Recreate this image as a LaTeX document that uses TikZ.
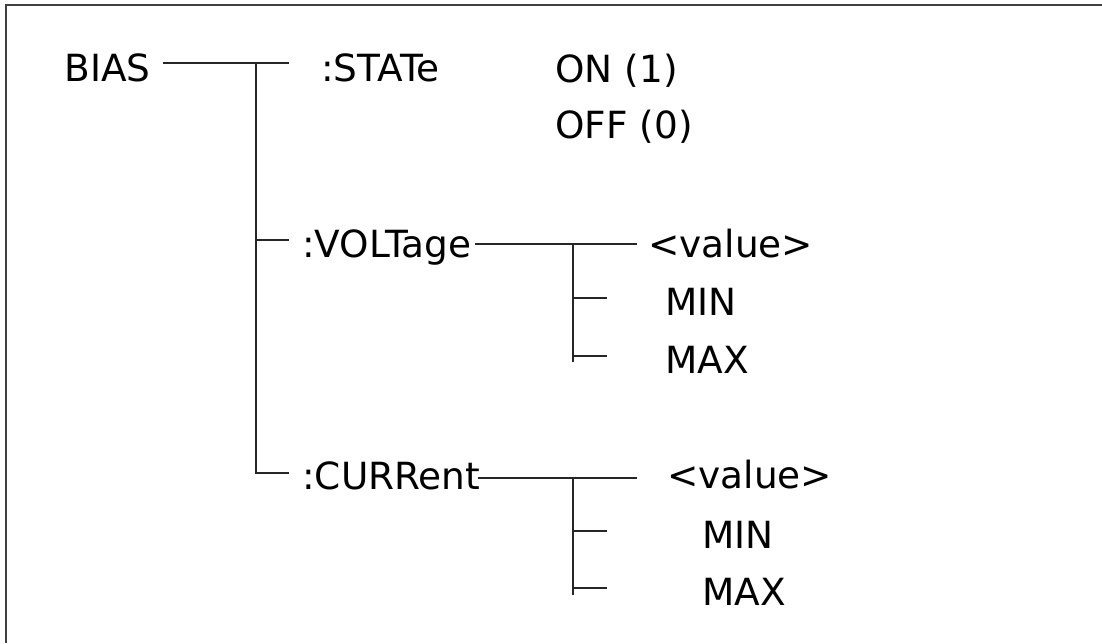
\documentclass[tikz,border=0pt]{standalone}
\usepackage{fontspec}
\setmainfont{DejaVu Sans}
\usepackage{tikz}
\tikzstyle{lbl}=[anchor=base west,inner sep=0pt,font=\fontsize{21.3}{26}\selectfont]
\tikzstyle{tree}=[line width=1pt,black!85]
\tikzstyle{frame}=[line width=1.2pt,black!75]

\begin{document}
\begin{tikzpicture}[x=0.02cm,y=-0.02cm]
\useasboundingbox (0,0) rectangle (1102,643);
\draw[frame] (6,643) -- (6,5) -- (1102,5);
\node[lbl] (BIAS) at (64,81) {BIAS};
\node[lbl] (STATe) at (321,81) {:STATe};
\node[lbl] (ON) at (555,82) {ON (1)};
\node[lbl] (OFF) at (555,138) {OFF (0)};
\node[lbl] (VOLT) at (302,257) {:VOLTage};
\node[lbl] (Vval) at (648,257) {<value>};
\node[lbl] (Vmin) at (665,315) {MIN};
\node[lbl] (Vmax) at (665,373) {MAX};
\node[lbl] (CURR) at (302,489) {:CURRent};
\node[lbl] (Cval) at (667,488) {<value>};
\node[lbl] (Cmin) at (702,548) {MIN};
\node[lbl] (Cmax) at (702,605) {MAX};
\coordinate (b0) at (163,63);
\coordinate (t0) at (256,63);
\coordinate (t1) at (289,63);
\coordinate (t2) at (256,240);
\coordinate (t3) at (289,240);
\coordinate (t4) at (256,473);
\coordinate (t5) at (289,473);
\coordinate (v0) at (475,244);
\coordinate (v1) at (573,244);
\coordinate (v2) at (637,244);
\coordinate (v3) at (573,298);
\coordinate (v4) at (607,298);
\coordinate (v5) at (573,356);
\coordinate (v6) at (607,356);
\coordinate (v7) at (573,362);
\coordinate (c0) at (478,478);
\coordinate (c1) at (573,478);
\coordinate (c2) at (637,478);
\coordinate (c3) at (573,531);
\coordinate (c4) at (607,531);
\coordinate (c5) at (573,588);
\coordinate (c6) at (607,588);
\coordinate (c7) at (573,595);
\draw[tree] (b0)--(t1);
\draw[tree] (t0)--(t4)--(t5);
\draw[tree] (t2)--(t3);
\draw[tree] (v0)--(v2);
\draw[tree] (v1)--(v7);
\draw[tree] (v3)--(v4);
\draw[tree] (v5)--(v6);
\draw[tree] (c0)--(c2);
\draw[tree] (c1)--(c7);
\draw[tree] (c3)--(c4);
\draw[tree] (c5)--(c6);
\end{tikzpicture}
\end{document}
